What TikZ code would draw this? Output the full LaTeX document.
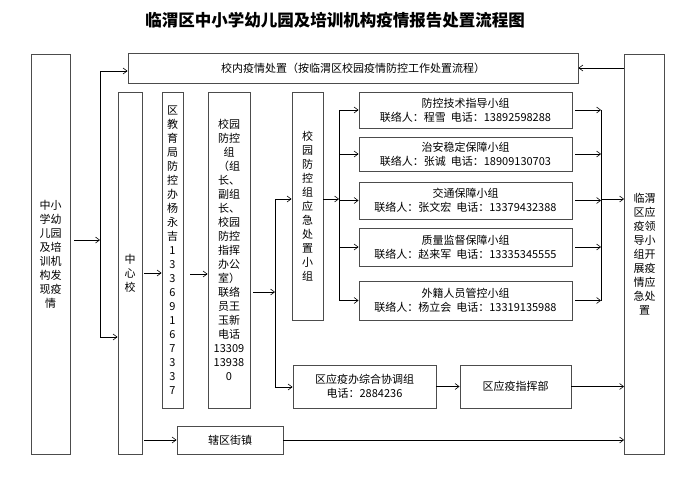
\documentclass[tikz,border=0pt]{standalone}
\usepackage{fontspec}
\setmainfont{Noto Sans CJK SC}
\usepackage{tikz}
\usetikzlibrary{positioning, arrows.meta}

\begin{document}
\begin{tikzpicture}[x=1pt, y=-1pt,
    every node/.style={font=\fontsize{11}{14}\selectfont},
    box/.style={draw=black!70, line width=0.9pt, align=center, inner sep=0pt},
    link/.style={-{Straight Barb[length=4pt, width=6pt]}, line width=0.6pt},
    wire/.style={line width=0.6pt}]
  \useasboundingbox (0,0) rectangle (700,495);

  \node[font=\bfseries\fontsize{16.5}{19}\selectfont] (title) at (335,20)
    {临渭区中小学幼儿园及培训机构疫情报告处置流程图};

  % outer columns and top bar
  \node[box, minimum width=39pt, minimum height=400pt] (found) at (50.5,254)
    {中小\\学幼\\儿园\\及培\\训机\\构发\\现疫\\情};
  \node[box, minimum width=450pt, minimum height=30pt] (school) at (353,68)
    {校内疫情处置（按临渭区校园疫情防控工作处置流程）};
  \node[box, minimum width=40pt, minimum height=400pt] (lead) at (644.5,254)
    {临渭\\区应\\疫领\\导小\\组开\\展疫\\情应\\急处\\置};

  % reporting chain
  \node[box, minimum width=24pt, minimum height=362pt] (hub) at (130,273)
    {中\\心\\校};
  \node[box, minimum width=21pt, minimum height=316pt] (bureau) at (172.5,250)
    {区\\教\\育\\局\\防\\控\\办\\杨\\永\\吉\\1\\3\\3\\6\\9\\1\\6\\7\\3\\3\\7};
  \node[box, minimum width=42pt, minimum height=316pt] (campus) at (229,250)
    {校园\\防控\\组\\（组\\长、\\副组\\长、\\校园\\防控\\指挥\\办公\\室）\\联络\\员王\\玉新\\电话\\13309\\13938\\0};
  \node[box, minimum width=31pt, minimum height=228pt] (squad) at (307.5,206)
    {校\\园\\防\\控\\组\\应\\急\\处\\置\\小\\组};

  % working groups
  \node[box, minimum width=213pt, minimum height=36pt] (tech) at (465.5,110)
    {防控技术指导小组\\联络人：程雪\ \ 电话：13892598288};
  \node[box, minimum width=213pt, minimum height=34pt] (security) at (465.5,154)
    {治安稳定保障小组\\联络人：张诚\ \ 电话：18909130703};
  \node[box, minimum width=213pt, minimum height=37pt] (traffic) at (465.5,200.5)
    {交通保障小组\\联络人：张文宏\ \ 电话：13379432388};
  \node[box, minimum width=213pt, minimum height=38pt] (quality) at (465.5,247)
    {质量监督保障小组\\联络人：赵来军\ \ 电话：13335345555};
  \node[box, minimum width=213pt, minimum height=39pt] (foreign) at (465.5,300.5)
    {外籍人员管控小组\\联络人：杨立会\ \ 电话：13319135988};

  \node[box, minimum width=143pt, minimum height=43pt] (office) at (364.5,386.5)
    {区应疫办综合协调组\\电话：2884236};
  \node[box, minimum width=111pt, minimum height=43pt] (hq) at (515.5,386.5)
    {区应疫指挥部};
  \node[box, minimum width=106pt, minimum height=28pt] (street) at (230,440)
    {辖区街镇};

  % junction points
  \coordinate (forkL)    at (100,240);
  \coordinate (forkLtop) at (100,71);
  \coordinate (forkLbot) at (100,337);
  \coordinate (busCtop)  at (275,199);
  \coordinate (busCmid)  at (275,292);
  \coordinate (busCbot)  at (275,387);
  \coordinate (busGtop)  at (339,110);
  \coordinate (busGmid)  at (339,199);
  \coordinate (busGbot)  at (339,300.5);
  \coordinate (busRtop)  at (601,110);
  \coordinate (busRmid)  at (601,199);
  \coordinate (busRbot)  at (601,300.5);

  \draw[link, shorten <=4pt] (found.east |- forkL) -- (forkL);
  \draw[wire] (forkLtop) -- (forkLbot);
  \draw[link] (forkLtop) -- (school.west |- forkLtop);
  \draw[link] (forkLbot) -- (hub.west |- forkLbot);
  \draw[link] (lead.west |- school.east) -- (school.east);

  \draw[link, shorten <=2pt] (hub.east) -- (hub.east -| bureau.west);
  \draw[link, shorten <=7pt] (bureau.east |- 0,274) -- (campus.west |- 0,274);
  \draw[link, shorten <=3pt] (campus.east |- busCmid) -- (busCmid);
  \draw[wire] (busCtop) -- (busCbot);
  \draw[link] (busCtop) -- (squad.west |- busCtop);
  \draw[link] (busCbot) -- (office.west |- busCbot);

  \draw[link] (squad.east |- busGmid) -- (busGmid);
  \draw[wire] (busGtop) -- (busGbot);
  \draw[wire] (busRtop) -- (busRbot);
  \foreach \g in {tech, security, traffic, quality, foreign} {
    \draw[link] (\g.west -| busGtop) -- (\g.west);
    \draw[link, shorten <=3pt] (\g.east) -- (\g.east -| busRtop);
  }
  \draw[link] (busRmid) -- (lead.west |- busRmid);

  \draw[link] (office.east) -- (hq.west);
  \draw[link] (hq.east) -- (hq.east -| lead.west);
  \draw[link, shorten <=2pt] (hub.east |- street.west) -- (street.west);
  \draw[link] (street.east) -- (street.east -| lead.west);
\end{tikzpicture}
\end{document}
